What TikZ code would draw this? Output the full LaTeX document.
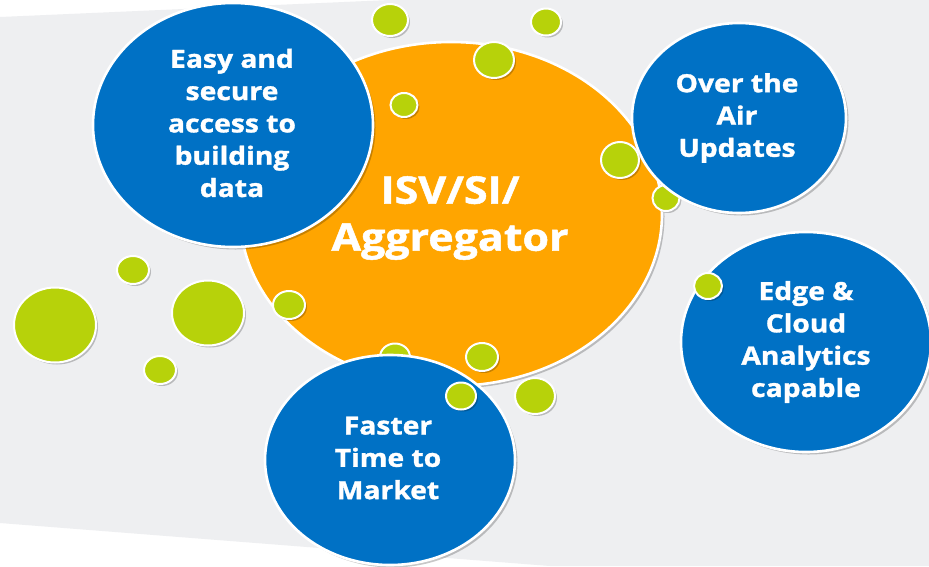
\documentclass[tikz,border=0pt]{standalone}
\usepackage{fontspec}
\setmainfont{Open Sans}[FakeStretch=1.13, BoldFeatures={FakeBold=1.3}]
\usetikzlibrary{shapes.geometric,shadows}
\definecolor{bgray}{HTML}{EEEFF1}
\definecolor{iblue}{HTML}{0071C5}
\definecolor{iorange}{HTML}{FFA500}
\definecolor{igreen}{HTML}{B7D20A}
\tikzset{
  bubble/.style={ellipse, draw=white, line width=2.6pt, inner sep=0pt,
    drop shadow={shadow xshift=2.5pt, shadow yshift=-2.5pt, fill=black, opacity=0.22}},
  bluebub/.style={bubble, fill=iblue},
  orangebub/.style={bubble, fill=iorange},
  dot/.style={ellipse, draw=white, line width=2pt, inner sep=0pt, fill=igreen,
    drop shadow={shadow xshift=2pt, shadow yshift=-2pt, fill=black, opacity=0.22}},
  label/.style={text=white, align=center, inner sep=0pt, font=\bfseries\fontsize{25}{32.3}\selectfont},
  biglabel/.style={text=white, align=center, inner sep=0pt, font=\bfseries\fontsize{38}{47}\selectfont},
}
\newcommand{\dotat}[4]{\node[dot, minimum width=#3pt, minimum height=#4pt] (#1) at #2 {};}
\begin{document}
\begin{tikzpicture}[x=1pt,y=-1pt]
\useasboundingbox (0,0) rectangle (929,566);
\fill[white] (0,0) rectangle (929,566);
\fill[bgray] (0,17) -- (390,0) -- (929,0) -- (929,566) -- (550,566) -- (0,523) -- cycle;

% orange centre
\node[orangebub, minimum width=422pt, minimum height=344pt] (core) at (451,214) {};

% dots behind blue bubbles
\dotat{d13}{(395,357)}{30}{27}
\dotat{d6}{(666,198)}{27}{26}

% blue bubbles
\node[bluebub, minimum width=280pt, minimum height=244pt] (easy) at (233,125) {};
\node[bluebub, minimum width=214pt, minimum height=190pt] (ota) at (739,118) {};
\node[bluebub, minimum width=250pt, minimum height=220pt] (edge) at (806,342) {};
\node[bluebub, minimum width=250pt, minimum height=210pt] (fast) at (390,460) {};

% dots in front
\dotat{d1}{(390,20)}{36}{32}
\dotat{d2}{(404,105)}{27}{24}
\dotat{d3}{(546,22)}{30}{27}
\dotat{d4}{(494,60)}{40}{36}
\dotat{d5}{(620,160)}{38}{36}
\dotat{d7}{(708,286)}{28}{26}
\dotat{d8}{(133,270)}{32}{28}
\dotat{d9}{(55,325)}{82}{75}
\dotat{d10}{(208,313)}{72}{65}
\dotat{d11}{(160,370)}{32}{28}
\dotat{d12}{(289,305)}{32}{28}
\dotat{d14}{(482,357)}{32}{28}
\dotat{d15}{(535,396)}{40}{36}
\dotat{d16}{(461,396)}{30}{27}

% texts
\node[biglabel] (tcore) at (450,218) {ISV/SI/\\Aggregator};
\node[label] (teasy) at (232,123) {Easy and\\secure\\access to\\building\\data};
\node[label] (tota) at (737,118) {Over the\\Air\\Updates};
\node[label] (tedge) at (806,342) {Edge \&\\Cloud\\Analytics\\capable};
\node[label] (tfast) at (388,458) {Faster\\Time to\\Market};
\end{tikzpicture}
\end{document}
